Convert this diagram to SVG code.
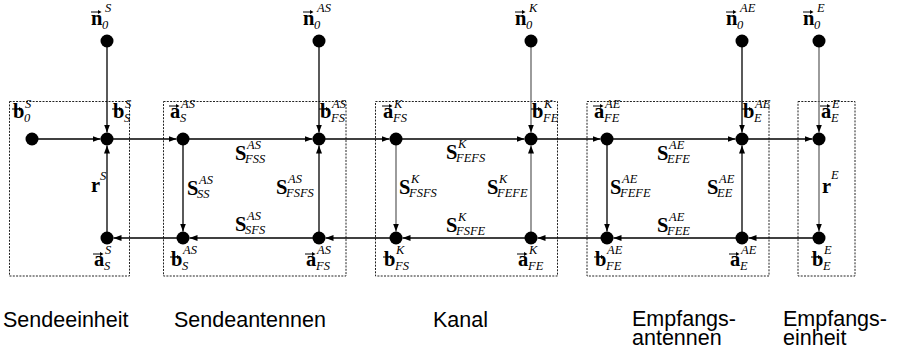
<svg xmlns="http://www.w3.org/2000/svg" xmlns:xlink="http://www.w3.org/1999/xlink" width="897" height="350" viewBox="0 0 897 350">
<style>
.box{fill:none;stroke:#222;stroke-width:1;stroke-dasharray:2 1.3}
.dot{fill:#000}
.e{stroke:#000;stroke-width:1.3;fill:none;marker-end:url(#ah)}
.g{stroke:#666}
.m{font-family:"Liberation Serif",serif;font-weight:bold;font-size:20.5px;fill:#000}
.i{font-family:"Liberation Serif",serif;font-style:italic;font-size:12.5px;fill:#000}
.t{font-family:"Liberation Sans",Arial,sans-serif;font-size:21.5px;fill:#000}
</style>
<defs>
<marker id="ah" markerWidth="9" markerHeight="7" refX="8" refY="3" orient="auto" markerUnits="userSpaceOnUse"><path d="M0,0 L8,3 L0,6 z" fill="#000"/></marker>
<g id="vec"><path d="M0,0 H9" stroke="#000" stroke-width="1" fill="none"/><path d="M7,-2 L10.5,0 L7,2 z" fill="#000"/></g>
</defs>

<g id="boxes">
<rect class="box" x="9.5" y="101.5" width="120" height="174.5"/>
<rect class="box" x="163.5" y="101.5" width="182.5" height="174.5"/>
<rect class="box" x="375.5" y="101.5" width="182" height="174.5"/>
<rect class="box" x="587" y="101.5" width="182" height="174.5"/>
<rect class="box" x="798" y="101.5" width="57" height="174.5"/>
</g>

<g id="connectors">
<line class="e" x1="107" y1="41" x2="107" y2="132.5"/>
<line class="e" x1="319" y1="41" x2="319" y2="132.5"/>
<line class="e g" x1="531" y1="41" x2="531" y2="132.5"/>
<line class="e" x1="742" y1="41" x2="742" y2="132.5"/>
<line class="e g" x1="819" y1="41" x2="819" y2="132.5"/>

<line class="e" x1="32" y1="139" x2="100.5" y2="139"/>
<line class="e" x1="107" y1="139" x2="176.5" y2="139"/>
<line class="e" x1="183" y1="139" x2="312.5" y2="139"/>
<line class="e" x1="319" y1="139" x2="389.5" y2="139"/>
<line class="e" x1="396" y1="139" x2="524.5" y2="139"/>
<line class="e" x1="531" y1="139" x2="600.5" y2="139"/>
<line class="e" x1="607" y1="139" x2="735.5" y2="139"/>
<line class="e" x1="742" y1="139" x2="812.5" y2="139"/>

<line class="e" x1="819" y1="238" x2="748.5" y2="238"/>
<line class="e" x1="742" y1="238" x2="613.5" y2="238"/>
<line class="e" x1="607" y1="238" x2="537.5" y2="238"/>
<line class="e" x1="531" y1="238" x2="402.5" y2="238"/>
<line class="e" x1="396" y1="238" x2="325.5" y2="238"/>
<line class="e" x1="319" y1="238" x2="189.5" y2="238"/>
<line class="e" x1="183" y1="238" x2="113.5" y2="238"/>

<line class="e" x1="107" y1="238" x2="107" y2="145.5"/>
<line class="e" x1="183" y1="139" x2="183" y2="231.5"/>
<line class="e" x1="319" y1="238" x2="319" y2="145.5"/>
<line class="e g" x1="396" y1="139" x2="396" y2="231.5"/>
<line class="e g" x1="531" y1="238" x2="531" y2="145.5"/>
<line class="e" x1="607" y1="139" x2="607" y2="231.5"/>
<line class="e" x1="742" y1="238" x2="742" y2="145.5"/>
<line class="e g" x1="819" y1="139" x2="819" y2="231.5"/>

<g id="s-labels">
<text class="m" x="235" y="160">S</text><text class="i" x="245" y="163">FSS</text><text class="i" x="247" y="149">AS</text>
<text class="m" x="187" y="195">S</text><text class="i" x="197" y="198">SS</text><text class="i" x="199" y="184">AS</text>
<text class="m" x="276" y="194">S</text><text class="i" x="286" y="197">FSFS</text><text class="i" x="288" y="183">AS</text>
<text class="m" x="235" y="231">S</text><text class="i" x="245" y="234">SFS</text><text class="i" x="247" y="220">AS</text>
<text class="m" x="446" y="159">S</text><text class="i" x="456" y="162">FEFS</text><text class="i" x="458" y="148">K</text>
<text class="m" x="399" y="194">S</text><text class="i" x="409" y="197">FSFS</text><text class="i" x="411" y="183">K</text>
<text class="m" x="487" y="194">S</text><text class="i" x="497" y="197">FEFE</text><text class="i" x="499" y="183">K</text>
<text class="m" x="446" y="232">S</text><text class="i" x="456" y="235">FSFE</text><text class="i" x="458" y="221">K</text>
<text class="m" x="657" y="160">S</text><text class="i" x="667" y="163">EFE</text><text class="i" x="669" y="149">AE</text>
<text class="m" x="610" y="194">S</text><text class="i" x="620" y="197">FEFE</text><text class="i" x="622" y="183">AE</text>
<text class="m" x="707" y="194">S</text><text class="i" x="717" y="197">EE</text><text class="i" x="719" y="183">AE</text>
<text class="m" x="657" y="232">S</text><text class="i" x="667" y="235">FEE</text><text class="i" x="669" y="221">AE</text>
<text class="m" x="91" y="192">r</text><text class="i" x="100" y="180">S</text>
<text class="m" x="822" y="193">r</text><text class="i" x="831" y="179">E</text>
</g>
</g>

<g id="n0-S"><circle class="dot" cx="107" cy="41" r="6.5"/><use href="#vec" x="91" y="12"/><text class="m" x="91" y="25">n</text><text class="i" x="102" y="29">0</text><text class="i" x="105" y="12">S</text></g>
<g id="n0-AS"><circle class="dot" cx="319" cy="41" r="6.5"/><use href="#vec" x="303" y="12"/><text class="m" x="303" y="25">n</text><text class="i" x="314" y="29">0</text><text class="i" x="317" y="12">AS</text></g>
<g id="n0-K"><circle class="dot" cx="531" cy="41" r="6.5"/><use href="#vec" x="515" y="12"/><text class="m" x="515" y="25">n</text><text class="i" x="526" y="29">0</text><text class="i" x="529" y="12">K</text></g>
<g id="n0-AE"><circle class="dot" cx="742" cy="41" r="6.5"/><use href="#vec" x="726" y="12"/><text class="m" x="726" y="25">n</text><text class="i" x="737" y="29">0</text><text class="i" x="740" y="12">AE</text></g>
<g id="n0-E"><circle class="dot" cx="819" cy="41" r="6.5"/><use href="#vec" x="803" y="12"/><text class="m" x="803" y="25">n</text><text class="i" x="814" y="29">0</text><text class="i" x="817" y="12">E</text></g>

<g id="b0-S"><circle class="dot" cx="32" cy="139" r="6.5"/><use href="#vec" x="12" y="109"/><text class="m" x="13" y="118">b</text><text class="i" x="24" y="122">0</text><text class="i" x="25" y="108">S</text></g>
<g id="bS-S"><circle class="dot" cx="107" cy="139" r="6.5"/><use href="#vec" x="112" y="109"/><text class="m" x="113" y="118">b</text><text class="i" x="124" y="122">S</text><text class="i" x="125" y="108">S</text></g>
<g id="aS-AS"><circle class="dot" cx="183" cy="139" r="6.5"/><use href="#vec" x="169" y="106"/><text class="m" x="170" y="118">a</text><text class="i" x="180" y="122">S</text><text class="i" x="181" y="108">AS</text></g>
<g id="bFS-AS"><circle class="dot" cx="319" cy="139" r="6.5"/><use href="#vec" x="319" y="109"/><text class="m" x="320" y="118">b</text><text class="i" x="331" y="122">FS</text><text class="i" x="332" y="108">AS</text></g>
<g id="aFS-K"><circle class="dot" cx="396" cy="139" r="6.5"/><use href="#vec" x="382" y="106"/><text class="m" x="383" y="118">a</text><text class="i" x="393" y="122">FS</text><text class="i" x="394" y="108">K</text></g>
<g id="bFE-K"><circle class="dot" cx="531" cy="139" r="6.5"/><use href="#vec" x="531" y="109"/><text class="m" x="532" y="118">b</text><text class="i" x="543" y="122">FE</text><text class="i" x="544" y="108">K</text></g>
<g id="aFE-AE"><circle class="dot" cx="607" cy="139" r="6.5"/><use href="#vec" x="593" y="106"/><text class="m" x="594" y="118">a</text><text class="i" x="604" y="122">FE</text><text class="i" x="605" y="108">AE</text></g>
<g id="bE-AE"><circle class="dot" cx="742" cy="139" r="6.5"/><use href="#vec" x="742" y="109"/><text class="m" x="743" y="118">b</text><text class="i" x="754" y="122">E</text><text class="i" x="755" y="108">AE</text></g>
<g id="aE-E"><circle class="dot" cx="819" cy="139" r="6.5"/><use href="#vec" x="820" y="106"/><text class="m" x="821" y="118">a</text><text class="i" x="831" y="122">E</text><text class="i" x="832" y="108">E</text></g>

<g id="aS-S"><circle class="dot" cx="107" cy="238" r="6.5"/><use href="#vec" x="93" y="254"/><text class="m" x="94" y="266">a</text><text class="i" x="104" y="270">S</text><text class="i" x="105" y="254">S</text></g>
<g id="bS-AS"><circle class="dot" cx="183" cy="238" r="6.5"/><use href="#vec" x="170" y="257"/><text class="m" x="171" y="266">b</text><text class="i" x="182" y="270">S</text><text class="i" x="183" y="254">AS</text></g>
<g id="aFS-AS"><circle class="dot" cx="319" cy="238" r="6.5"/><use href="#vec" x="305" y="254"/><text class="m" x="306" y="266">a</text><text class="i" x="316" y="270">FS</text><text class="i" x="317" y="254">AS</text></g>
<g id="bFS-K"><circle class="dot" cx="396" cy="238" r="6.5"/><use href="#vec" x="383" y="257"/><text class="m" x="384" y="266">b</text><text class="i" x="395" y="270">FS</text><text class="i" x="396" y="254">K</text></g>
<g id="aFE-K"><circle class="dot" cx="531" cy="238" r="6.5"/><use href="#vec" x="517" y="254"/><text class="m" x="518" y="266">a</text><text class="i" x="528" y="270">FE</text><text class="i" x="529" y="254">K</text></g>
<g id="bFE-AE"><circle class="dot" cx="607" cy="238" r="6.5"/><use href="#vec" x="594" y="257"/><text class="m" x="595" y="266">b</text><text class="i" x="606" y="270">FE</text><text class="i" x="607" y="254">AE</text></g>
<g id="aE-AE"><circle class="dot" cx="742" cy="238" r="6.5"/><use href="#vec" x="729" y="254"/><text class="m" x="730" y="266">a</text><text class="i" x="740" y="270">E</text><text class="i" x="741" y="254">AE</text></g>
<g id="bE-E"><circle class="dot" cx="819" cy="238" r="6.5"/><use href="#vec" x="811" y="257"/><text class="m" x="812" y="266">b</text><text class="i" x="823" y="270">E</text><text class="i" x="824" y="254">E</text></g>

<g id="captions">
<text class="t" x="3" y="327">Sendeeinheit</text>
<text class="t" x="174" y="327">Sendeantennen</text>
<text class="t" x="433" y="327">Kanal</text>
<text class="t" x="632" y="326">Empfangs-</text>
<text class="t" x="632" y="345">antennen</text>
<text class="t" x="783" y="326">Empfangs-</text>
<text class="t" x="783" y="345">einheit</text>
</g>
</svg>
